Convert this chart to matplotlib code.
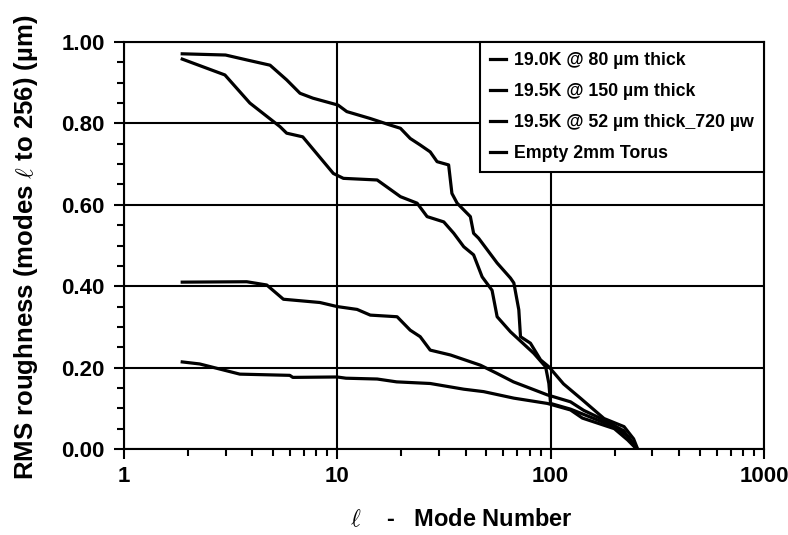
import matplotlib
matplotlib.use("Agg")
import matplotlib.pyplot as plt
from matplotlib.ticker import MultipleLocator, FixedLocator, NullFormatter

plt.rcParams["font.family"] = ["Liberation Sans", "DejaVu Sans"]
plt.rcParams["font.weight"] = "bold"
plt.rcParams["mathtext.fontset"] = "cm"

# RMS roughness vs mode number
a_mode = [1.88, 3, 3.77, 4.85, 5.8, 6.7, 7.7, 10.1, 11.1, 14.3, 17.7, 19.8, 22, 24.5, 27.3,
          29.4, 33.3, 34.5, 36.5, 42.1, 43.6, 46, 56.2, 64.9, 67.3, 71, 72.3, 80.5, 89.8,
          98.2, 115, 138, 178, 221, 245, 256]
a_rms = [0.971, 0.968, 0.956, 0.943, 0.907, 0.874, 0.862, 0.845, 0.829, 0.812, 0.796, 0.788,
         0.763, 0.747, 0.73, 0.706, 0.698, 0.628, 0.604, 0.571, 0.53, 0.518, 0.457, 0.42,
         0.408, 0.342, 0.276, 0.26, 0.219, 0.202, 0.16, 0.125, 0.075, 0.055, 0.025, 0.0]

b_mode = [1.88, 2.98, 3.9, 5.4, 5.8, 6.9, 9.6, 10.7, 15.4, 18.4, 19.8, 23.7, 26.4, 31.6,
          35.2, 39.2, 43.6, 47.8, 53.2, 56.2, 64.9, 83.5, 94.8, 98.2, 100, 124, 143, 178,
          205, 232, 253]
b_rms = [0.958, 0.919, 0.85, 0.792, 0.776, 0.767, 0.677, 0.665, 0.661, 0.632, 0.62, 0.604,
         0.571, 0.558, 0.53, 0.497, 0.477, 0.423, 0.39, 0.325, 0.288, 0.235, 0.202, 0.161,
         0.112, 0.098, 0.085, 0.065, 0.05, 0.03, 0.0]

c_mode = [1.88, 3.77, 4.68, 5.6, 8.3, 10, 12.4, 14.3, 19.1, 22, 24.5, 27.3, 34, 46.9, 56,
          67, 80.5, 96.6, 124, 143, 180, 220, 254]
c_rms = [0.41, 0.411, 0.403, 0.368, 0.36, 0.35, 0.343, 0.329, 0.325, 0.292, 0.276, 0.243,
         0.231, 0.206, 0.186, 0.165, 0.149, 0.133, 0.116, 0.095, 0.07, 0.045, 0.0]

d_mode = [1.88, 2.27, 3.5, 6, 6.2, 10, 11, 15.4, 19, 27.3, 39.2, 48.6, 67.3, 96.6, 124,
          141, 199, 230, 253]
d_rms = [0.214, 0.209, 0.184, 0.181, 0.176, 0.177, 0.174, 0.172, 0.165, 0.161, 0.147,
         0.141, 0.125, 0.112, 0.096, 0.076, 0.05, 0.022, 0.0]

labels = ["19.0K @ 80 µm thick", "19.5K @ 150 µm thick",
          "19.5K @ 52 µm thick_720 µw", "Empty 2mm Torus"]

fig = plt.figure(figsize=(7.88, 5.35), dpi=100)
ax = fig.add_axes([0.157, 0.1607, 0.8125, 0.7608])

for xs, ys, lab in zip([a_mode, b_mode, c_mode, d_mode],
                       [a_rms, b_rms, c_rms, d_rms], labels):
    ax.plot(xs, ys, color="black", linewidth=2.3, label=lab, zorder=3)

ax.set_xscale("log")
ax.set_xlim(1, 1000)
ax.set_ylim(0, 1.0)
ax.xaxis.set_major_locator(FixedLocator([1, 10, 100, 1000]))
ax.xaxis.set_minor_locator(FixedLocator([m * d for d in (1, 10, 100) for m in range(2, 10)]))
ax.xaxis.set_minor_formatter(NullFormatter())
ax.set_xticklabels(["1", "10", "100", "1000"])
ax.yaxis.set_major_locator(MultipleLocator(0.2))
ax.yaxis.set_minor_locator(MultipleLocator(0.05))
ax.yaxis.set_major_formatter(plt.FuncFormatter(lambda v, p: f"{v:.2f}"))

ax.grid(True, which="major", color="black", linewidth=1.5)
for s in ax.spines.values():
    s.set_linewidth(1.5)
ax.tick_params(which="major", direction="out", length=7.5, width=1.5, labelsize=16)
ax.tick_params(axis="y", which="major", pad=6)
ax.tick_params(axis="x", which="major", pad=5)
ax.tick_params(which="minor", direction="out", length=5, width=1.5)

ax.set_xlabel(r"$\ell$    -   Mode Number", fontsize=17, fontweight="bold")
ax.xaxis.set_label_coords(0.527, -0.145)
ax.set_ylabel(r"RMS roughness (modes $\ell$ to 256) (µm)", fontsize=18.5, fontweight="bold")
ax.yaxis.set_label_coords(-0.13, 0.495)

leg = ax.legend(loc="upper right", borderaxespad=0, fontsize=12.8, handlelength=0.95,
                handletextpad=0.45, labelspacing=0.8, fancybox=False, framealpha=1,
                borderpad=0.55)
leg.get_frame().set_edgecolor("black")
leg.get_frame().set_linewidth(1.5)
leg.set_zorder(5)

fig.savefig("out.png", dpi=100)
